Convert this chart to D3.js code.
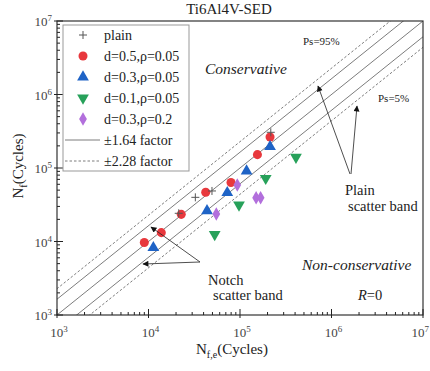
<!DOCTYPE html>
<html>
<head>
<meta charset="utf-8">
<script src="https://cdn.jsdelivr.net/npm/d3@7"></script>
<style>
  html, body { margin: 0; padding: 0; background: #fff; }
  svg { display: block; }
</style>
</head>
<body>
<svg id="chart" width="430" height="371" font-family="'Liberation Serif', 'Times New Roman', Times, serif"></svg>
<script>
// Predicted life (x) vs experimental life (y), cycles
const plainX = [2.14e4, 3.25e4, 4.94e4, 2.17e5];
const plainY = [2.42e4, 3.99e4, 4.87e4, 3.06e5];

const d05X = [9.0e3, 1.38e4, 2.28e4, 4.22e4, 7.97e4, 1.55e5, 2.13e5];
const d05Y = [9.7e3, 1.32e4, 2.34e4, 4.67e4, 6.35e4, 1.52e5, 2.64e5];

const d03X = [1.13e4, 4.36e4, 7.26e4, 1.18e5, 2.13e5];
const d03Y = [8.24e3, 2.62e4, 4.61e4, 9.1e4, 1.95e5];

const d01X = [5.29e4, 9.75e4, 1.91e5, 4.09e5];
const d01Y = [1.25e4, 3.14e4, 7.24e4, 1.40e5];

const d03r02X = [5.51e4, 9.34e4, 1.50e5, 1.68e5];
const d03r02Y = [2.37e4, 5.87e4, 3.94e4, 3.94e4];

// scatter band factors
const bandInner = 1.64;
const bandOuter = 2.28;

const axisTicks = [1e3, 1e4, 1e5, 1e6, 1e7];
const tickExponents = ["3", "4", "5", "6", "7"];

const legendLabels = ["plain", "d=0.5,ρ=0.05", "d=0.3,ρ=0.05", "d=0.1,ρ=0.05", "d=0.3,ρ=0.2", "±1.64 factor", "±2.28 factor"];

const svg = d3.select("#chart");
const L = 57, R = 423, T = 21, B = 315;

const x = d3.scaleLog().domain([1e3, 1e7]).range([L, R]);
const y = d3.scaleLog().domain([1e3, 1e7]).range([B, T]);

svg.append("defs").append("clipPath").attr("id", "plotclip")
  .append("rect").attr("x", L).attr("y", T).attr("width", R - L).attr("height", B - T);

// scatter band lines
const lineGen = d3.line().x(d => x(d[0])).y(d => y(d[1]));
const bands = [
  { f: 1, dash: null },
  { f: bandInner, dash: null },
  { f: 1 / bandInner, dash: null },
  { f: bandOuter, dash: "2.5,2" },
  { f: 1 / bandOuter, dash: "2.5,2" }
];
const bandG = svg.append("g").attr("clip-path", "url(#plotclip)");
bands.forEach(b => {
  const pts = [[1e2, 1e2 * b.f], [1e8, 1e8 * b.f]];
  bandG.append("path").attr("d", lineGen(pts))
    .attr("fill", "none").attr("stroke", "#6d6d6d")
    .attr("stroke-width", 0.9)
    .attr("stroke-dasharray", b.dash);
});

// frame
svg.append("rect").attr("x", L).attr("y", T).attr("width", R - L).attr("height", B - T)
  .attr("fill", "none").attr("stroke", "#333").attr("stroke-width", 1.2);

// ticks
const minor = [];
for (let e = 3; e < 7; e++) for (let k = 2; k <= 9; k++) minor.push(k * Math.pow(10, e));
const tg = svg.append("g").attr("stroke", "#222").attr("stroke-width", 1);
minor.forEach(v => {
  tg.append("line").attr("x1", x(v)).attr("x2", x(v)).attr("y1", B).attr("y2", B - 3);
  tg.append("line").attr("x1", L).attr("x2", L + 3).attr("y1", y(v)).attr("y2", y(v));
});
axisTicks.forEach(v => {
  tg.append("line").attr("x1", x(v)).attr("x2", x(v)).attr("y1", B + 3).attr("y2", B - 6);
  tg.append("line").attr("x1", L - 3).attr("x2", L + 6).attr("y1", y(v)).attr("y2", y(v));
});

// tick labels
function powLabel(g, px, py, exp, anchor) {
  const t = g.append("text").attr("x", px).attr("y", py).attr("text-anchor", anchor)
    .attr("font-size", 13).style("fill", "#444");
  t.append("tspan").text("10");
  t.append("tspan").attr("dy", -5).attr("font-size", 9).text(exp);
}
axisTicks.forEach((v, i) => {
  if (i === axisTicks.length - 1) powLabel(svg, 429, B + 22, tickExponents[i], "end");
  else powLabel(svg, x(v) + 2, B + 22, tickExponents[i], "middle");
  powLabel(svg, L - 5, y(v) + 5, tickExponents[i], "end");
});

// axis titles
const xt = svg.append("text").attr("x", 232).attr("y", 354).attr("text-anchor", "middle")
  .attr("font-size", 15).style("fill", "#222");
xt.append("tspan").text("N");
xt.append("tspan").attr("dy", 4).attr("font-size", 10).text("f,e");
xt.append("tspan").attr("dy", -4).text("(Cycles)");

const yt = svg.append("text").attr("transform", "translate(23,166) rotate(-90)")
  .attr("text-anchor", "middle").attr("font-size", 15).style("fill", "#222");
yt.append("tspan").text("N");
yt.append("tspan").attr("dy", 4).attr("font-size", 10).text("f");
yt.append("tspan").attr("dy", -4).text("(Cycles)");

svg.append("text").attr("x", 229).attr("y", 14).attr("text-anchor", "middle")
  .attr("font-size", 15).style("fill", "#222").text("Ti6Al4V-SED");

// marker styles
const series = [
  { xs: plainX, ys: plainY, type: "plus", color: "#555" },
  { xs: d05X, ys: d05Y, type: d3.symbolCircle, size: 64, color: "#e8383d", rot: 0 },
  { xs: d03X, ys: d03Y, type: d3.symbolTriangle, size: 60, color: "#1e63c6", rot: 0 },
  { xs: d01X, ys: d01Y, type: d3.symbolTriangle, size: 60, color: "#27a15a", rot: 180 },
  { xs: d03r02X, ys: d03r02Y, type: d3.symbolDiamond, size: 52, color: "#b26fdc", rot: 0 }
];

function drawMarker(g, s, px, py) {
  if (s.type === "plus") {
    g.append("path").attr("d", `M${px - 4},${py}H${px + 4}M${px},${py - 4}V${py + 4}`)
      .attr("stroke", s.color).attr("stroke-width", 1).attr("fill", "none");
  } else {
    g.append("path").attr("d", d3.symbol().type(s.type).size(s.size)())
      .attr("transform", `translate(${px},${py}) rotate(${s.rot})`)
      .attr("fill", s.color);
  }
}

const markG = svg.append("g");
// colored series first, plain crosses on top
[1, 2, 3, 4, 0].forEach(i => {
  const s = series[i];
  s.xs.forEach((v, j) => drawMarker(markG, s, x(v), y(s.ys[j])));
});

// legend
const lg = svg.append("g");
lg.append("rect").attr("x", 63).attr("y", 25).attr("width", 126).attr("height", 146)
  .attr("fill", "#fff").attr("stroke", "#999").attr("stroke-width", 1);
legendLabels.forEach((lab, i) => {
  const cy = 35 + i * 21;
  if (i < 5) {
    drawMarker(lg, series[i], 83, cy);
  } else {
    lg.append("line").attr("x1", 65).attr("x2", 100).attr("y1", cy).attr("y2", cy)
      .attr("stroke", "#6d6d6d").attr("stroke-width", 0.9)
      .attr("stroke-dasharray", i === 6 ? "2.5,2" : null);
  }
  lg.append("text").attr("x", 104).attr("y", cy + 5).attr("font-size", 14)
    .style("fill", "#222").text(lab);
});

// annotations
const ann = svg.append("g");
function note(txt, px, py, size, italic) {
  return ann.append("text").attr("x", px).attr("y", py).attr("font-size", size)
    .style("fill", "#222").attr("font-style", italic ? "italic" : null).text(txt);
}
note("Conservative", 205, 74, 15.5, true);
note("Non-conservative", 302, 270, 15.5, true);
note("Ps=95%", 303, 45, 11);
note("Ps=5%", 378, 102, 11);
note("Plain", 345, 195, 14.5);
note("scatter band", 348, 211, 14.5);
note("Notch", 208, 285, 14.5);
note("scatter band", 213, 300, 14.5);
const rt = ann.append("text").attr("x", 358).attr("y", 300).attr("font-size", 14.5).style("fill", "#222");
rt.append("tspan").attr("font-style", "italic").text("R");
rt.append("tspan").text("=0");

// arrows
const defs = svg.select("defs");
defs.append("marker").attr("id", "ah").attr("viewBox", "0 0 10 10")
  .attr("refX", 9).attr("refY", 5).attr("markerWidth", 7).attr("markerHeight", 6)
  .attr("orient", "auto").attr("markerUnits", "userSpaceOnUse")
  .append("path").attr("d", "M0,0L10,5L0,10z").attr("fill", "#111");
const arrows = [
  [350, 174, 318, 86],
  [351, 174, 357, 106],
  [200, 262, 151, 227],
  [200, 262, 143, 264]
];
arrows.forEach(a => {
  ann.append("line").attr("x1", a[0]).attr("y1", a[1]).attr("x2", a[2]).attr("y2", a[3])
    .attr("stroke", "#222").attr("stroke-width", 0.8).attr("marker-end", "url(#ah)");
});
</script>
</body>
</html>
